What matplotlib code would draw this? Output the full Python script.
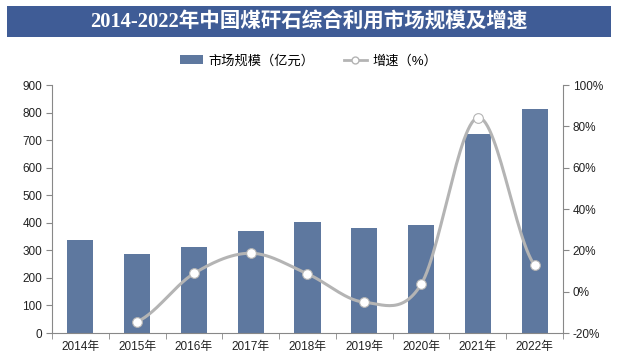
import numpy as np
import matplotlib
matplotlib.use("Agg")
import matplotlib.pyplot as plt
from matplotlib.patches import Rectangle
from matplotlib.lines import Line2D
from matplotlib.patches import Patch

plt.rcParams['font.family'] = ['Liberation Sans', 'Noto Sans CJK SC', 'DejaVu Sans']

years = ["2014年", "2015年", "2016年", "2017年", "2018年", "2019年", "2020年", "2021年", "2022年"]
market = [337, 287, 312, 370, 403, 382, 392, 722, 813]
growth_years = ["2015年", "2016年", "2017年", "2018年", "2019年", "2020年", "2021年", "2022年"]
growth = [-14.5, 8.8, 18.6, 8.6, -5.1, 3.5, 84.2, 12.8]

title = "2014-2022年中国煤矸石综合利用市场规模及增速"
bar_label = "市场规模（亿元）"
line_label = "增速（%）"

bar_color = "#5e789f"
line_color = "#b4b4b4"

fig = plt.figure(figsize=(6.17, 3.64), dpi=100)
fig.patch.set_facecolor("white")

# title banner
fig.patches.append(Rectangle((7/617, 1-37/364), 604/617, 31/364, transform=fig.transFigure,
                             facecolor="#3f5c96", edgecolor="none", zorder=0))
fig.text(0.5, 1-22/364, title, ha="center", va="center", color="white", fontsize=14.8,
         fontweight="bold", family=['Liberation Serif', 'Noto Sans CJK SC'])

ax = fig.add_axes([52/617, 1-333/364, 511/617, 248/364])
x = np.arange(len(years))
ax.bar(x, market, width=0.46, color=bar_color, zorder=2)
ax.set_xlim(-0.5, len(years)-0.5)
ax.set_ylim(0, 900)
ax.set_yticks(np.arange(0, 901, 100))
ax.set_xticks(x)
ax.set_xticklabels(years)
ax.set_xticks(np.arange(-0.5, len(years), 1), minor=True)
ax.tick_params(axis='x', which='major', length=0, pad=6, labelsize=8.5, colors="#222222")
ax.tick_params(axis='x', which='minor', length=4, color="#888888", direction="out")
ax.tick_params(axis='y', length=4, color="#888888", labelsize=8.5, colors="#222222", pad=3)
for s in ["top", "right"]:
    ax.spines[s].set_visible(False)
for s in ["left", "bottom"]:
    ax.spines[s].set_color("#888888")
    ax.spines[s].set_linewidth(0.8)

ax2 = ax.twinx()
ax2.set_ylim(-20, 100)
ax2.set_yticks(np.arange(-20, 101, 20))
ax2.set_yticklabels([f"{v}%" for v in range(-20, 101, 20)])
ax2.tick_params(axis='y', length=4, color="#888888", labelsize=8.5, colors="#222222", pad=3)
for s in ["top", "left", "bottom"]:
    ax2.spines[s].set_visible(False)
ax2.spines["right"].set_color("#888888")
ax2.spines["right"].set_linewidth(0.8)

# smooth line (Catmull-Rom through points)
gx = np.array([years.index(y) for y in growth_years], dtype=float)
gy = np.array(growth, dtype=float)
px = np.concatenate([[2*gx[0]-gx[1]], gx, [2*gx[-1]-gx[-2]]])
py = np.concatenate([[gy[0]], gy, [gy[-1]]])
sx, sy = [], []
for i in range(1, len(px)-2):
    p0, p1, p2, p3 = (px[i-1], py[i-1]), (px[i], py[i]), (px[i+1], py[i+1]), (px[i+2], py[i+2])
    c1 = (p1[0] + (p2[0]-p0[0])/6, p1[1] + (p2[1]-p0[1])/6)
    c2 = (p2[0] - (p3[0]-p1[0])/6, p2[1] - (p3[1]-p1[1])/6)
    t = np.linspace(0, 1, 30)
    bx = (1-t)**3*p1[0] + 3*(1-t)**2*t*c1[0] + 3*(1-t)*t**2*c2[0] + t**3*p2[0]
    by = (1-t)**3*p1[1] + 3*(1-t)**2*t*c1[1] + 3*(1-t)*t**2*c2[1] + t**3*p2[1]
    sx.extend(bx); sy.extend(by)
ax2.plot(sx, sy, color=line_color, lw=2.2, zorder=3, solid_capstyle="round")
ax2.plot(gx, gy, linestyle="none", marker="o", markersize=7, markerfacecolor="white",
         markeredgecolor=line_color, markeredgewidth=0.8, zorder=4)

handles = [Patch(facecolor=bar_color, edgecolor="none"),
           Line2D([0], [0], color=line_color, lw=2, marker="o", markersize=5,
                  markerfacecolor="white", markeredgecolor=line_color)]
fig.legend(handles, [bar_label, line_label], loc="center", bbox_to_anchor=(0.5, 1-61/364),
           ncol=2, frameon=False, fontsize=9.5, handlelength=1.8, handleheight=0.6,
           columnspacing=2.2, handletextpad=0.4)

fig.savefig("out.png", dpi=100, facecolor="white")
